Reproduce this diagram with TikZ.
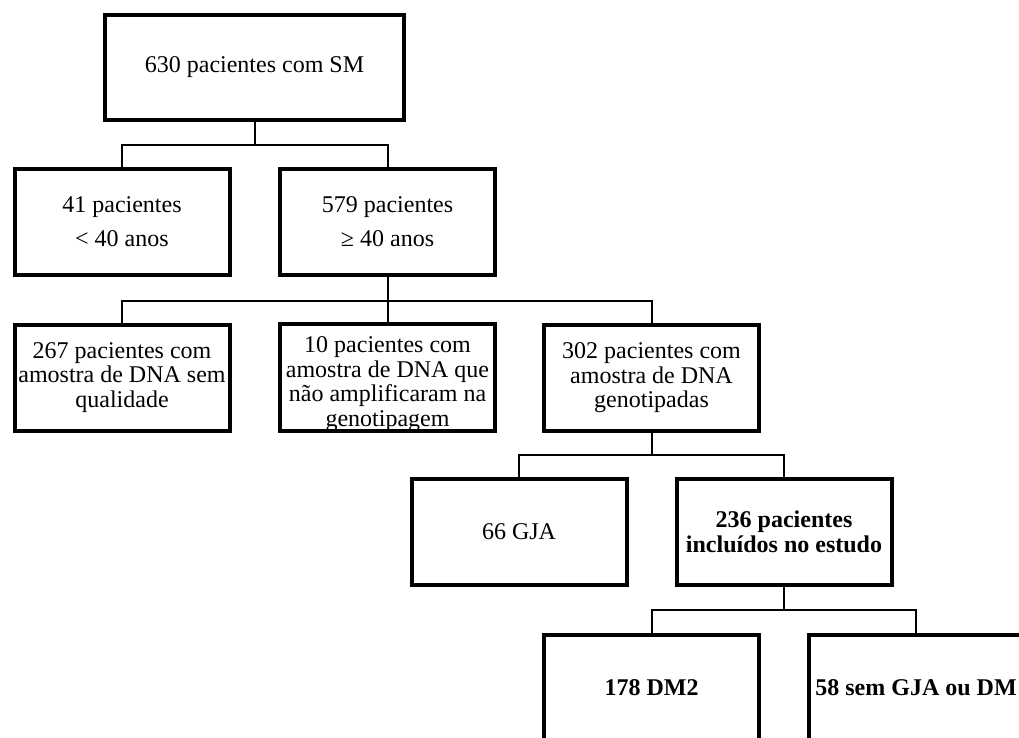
\documentclass[tikz,border=0pt]{standalone}
\usepackage{fontspec}
\setmainfont{Liberation Serif}
\begin{document}
\begin{tikzpicture}[x=1pt,y=-1pt,
  box/.style={draw=black,line width=4pt,minimum width=215pt,minimum height=106pt,
    inner sep=0pt,align=center,font=\fontsize{24}{24.5}\selectfont},
  widebox/.style={box,minimum width=299pt,minimum height=105pt},
  loose/.style={font=\fontsize{24}{34}\selectfont},
  conn/.style={draw=black,line width=2pt}]
\useasboundingbox (0,0) rectangle (1019,738);
\fill[white] (0,0) rectangle (1019,738);
\clip (0,0) rectangle (1019,738);
\node[widebox] (b1) at (254.5,67.5) {630 pacientes com SM};
\node[box,loose] (b2) at (122,222) {41 pacientes\\< 40 anos};
\node[box,loose] (b3) at (387.5,222) {579 pacientes\\≥ 40 anos};
\node[box] (b4) at (122,377.5) {267 pacientes com\\amostra de DNA sem\\qualidade};
\node[box] (b5) at (387.5,377.5) {\rule{0pt}{29pt}10 pacientes com\\amostra de DNA que\\não amplificaram na\\genotipagem};
\node[box] (b6) at (651.5,378) {302 pacientes com\\amostra de DNA\\genotipadas};
\node[box] (b7) at (519,532) {66 GJA};
\node[box,font=\fontsize{24}{25}\selectfont\bfseries] (b8) at (784,532) {236 pacientes\\incluídos no estudo};
\node[box,font=\fontsize{24}{25}\selectfont\bfseries] (b9) at (651.5,688) {178 DM2};
\node[box,font=\fontsize{24}{25}\selectfont\bfseries] (b10) at (916,688) {58 sem GJA ou DM};
% connectors
\draw[conn] (b1.south) -- ++(0,23) coordinate (j1);
\draw[conn] (j1) -| (b2.north);
\draw[conn] (j1) -| (b3.north);
\draw[conn] (b3.south) -- ++(0,24) coordinate (j2);
\draw[conn] (b3.south) -- (b5.north);
\draw[conn] (j2) -| (b4.north);
\draw[conn] (j2) -| (b6.north);
\draw[conn] (b6.south) -- ++(0,22) coordinate (j3);
\draw[conn] (j3) -| (b7.north);
\draw[conn] (j3) -| (b8.north);
\draw[conn] (b8.south) -- ++(0,23) coordinate (j4);
\draw[conn] (j4) -| (b9.north);
\draw[conn] (j4) -| (b10.north);
\end{tikzpicture}
\end{document}
